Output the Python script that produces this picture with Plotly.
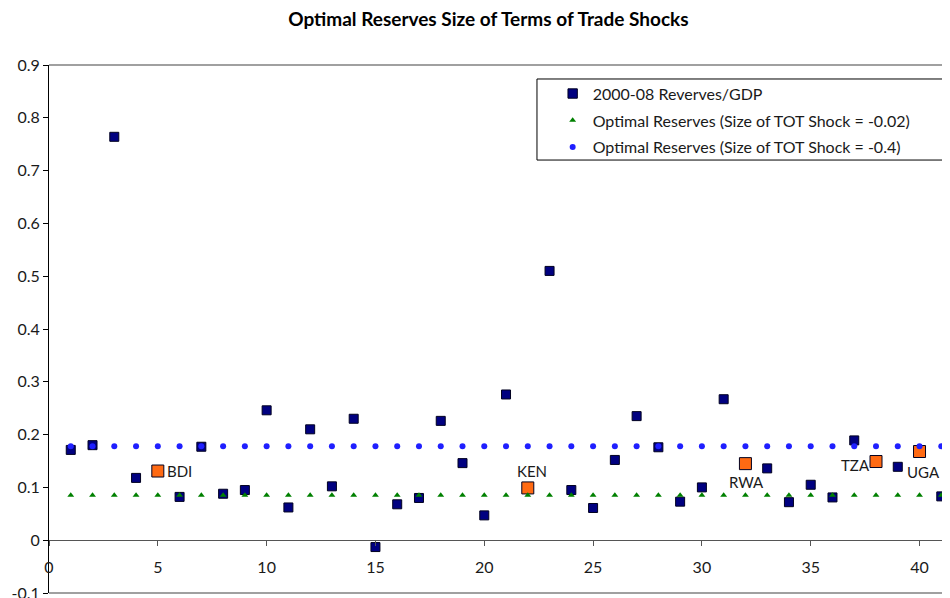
import plotly.graph_objects as go

# datos
country_idx = list(range(1, 42))
reserves_gdp = [0.171, 0.180, 0.764, 0.118, 0.131, 0.082, 0.177, 0.088, 0.095, 0.246,
                0.062, 0.210, 0.102, 0.230, -0.013, 0.068, 0.080, 0.226, 0.146, 0.047,
                0.276, 0.099, 0.510, 0.095, 0.061, 0.152, 0.235, 0.176, 0.073, 0.100,
                0.267, 0.145, 0.136, 0.072, 0.105, 0.081, 0.189, 0.149, 0.139, 0.168,
                0.083]
optimal_small = [0.085] * 41   # shock TOT = -0.02
optimal_large = [0.178] * 41   # shock TOT = -0.4

highlight_codes = ["BDI", "KEN", "RWA", "TZA", "UGA"]
highlight_idx = [5, 22, 32, 38, 40]

y_ticks = [-0.1, 0, 0.1, 0.2, 0.3, 0.4, 0.5, 0.6, 0.7, 0.8, 0.9]
y_ticktext = ["-0.1", "0", "0.1", "0.2", "0.3", "0.4", "0.5", "0.6", "0.7", "0.8", "0.9"]
x_ticks = [0, 5, 10, 15, 20, 25, 30, 35, 40]

FONT = "Lato, 'Open Sans', sans-serif"

# separar los países resaltados del resto
hl_vals = [reserves_gdp[i - 1] for i in highlight_idx]
colors = ["#FF6A13" if i in highlight_idx else "#000080" for i in country_idx]
sizes = [9 if i not in highlight_idx else 12 for i in country_idx]

fig = go.Figure()

# en Excel la serie de reservas queda debajo de las otras dos
fig.add_trace(go.Scatter(
    x=country_idx, y=reserves_gdp, mode="markers",
    name="2000-08 Reverves/GDP", legendgroup="a",
    marker=dict(symbol="square", size=sizes, color=colors, opacity=1,
                line=dict(color="#000020", width=1)),
))
fig.add_trace(go.Scatter(
    x=country_idx, y=optimal_small, mode="markers",
    name="Optimal Reserves (Size of TOT Shock = -0.02)", legendgroup="b",
    marker=dict(symbol="triangle-up", size=6, color="#008000"),
))
fig.add_trace(go.Scatter(
    x=country_idx, y=optimal_large, mode="markers",
    name="Optimal Reserves (Size of TOT Shock = -0.4)", legendgroup="c",
    marker=dict(symbol="circle", size=6, color="#1F1FFF"),
))

# etiquetas de los países resaltados (desplazamiento en px respecto al punto)
label_shift = {"BDI": (22, 0), "KEN": (4, 17), "RWA": (1, -18), "TZA": (-21, -3), "UGA": (4, -20)}
for code, xi, yv in zip(highlight_codes, highlight_idx, hl_vals):
    dx, dy = label_shift[code]
    fig.add_annotation(x=xi, y=yv, text=code, showarrow=False, xshift=dx, yshift=dy,
                       font=dict(size=15, color="#1a1a1a", family=FONT))

# el navegador deja 8px de margen en el body, se compensa aquí
fig.update_layout(
    width=942, height=590,
    margin=dict(l=41, r=0, t=57, b=5),
    plot_bgcolor="white", paper_bgcolor="white",
    font=dict(family=FONT, size=16, color="#1a1a1a"),
    title=dict(text="<b>Optimal Reserves Size of Terms of Trade Shocks</b>",
               x=0.51, xanchor="center", y=0.98, yanchor="middle",
               font=dict(size=19, color="black")),
    legend=dict(x=0.559, y=0.978, xanchor="left", yanchor="top",
                borderwidth=0, bgcolor="rgba(0,0,0,0)", tracegroupgap=3,
                font=dict(size=16), itemsizing="trace"),
    showlegend=True,
)
fig.update_xaxes(range=[0, 41.4], tickvals=x_ticks,
                 showgrid=False, zeroline=False, showline=True, linecolor="#555555",
                 ticks="outside", ticklen=5, tickcolor="#555555", ticklabelstandoff=8,
                 anchor="free", position=0.1, automargin=False)
fig.update_yaxes(range=[-0.1, 0.9], tickvals=y_ticks, ticktext=y_ticktext, showgrid=False,
                 zeroline=False, showline=True, linecolor="black",
                 ticks="outside", ticklen=5, tickcolor="black",
                 ticklabeloverflow="allow", automargin=False)

# bordes superior e inferior del área de trazado
fig.add_shape(type="line", xref="paper", yref="paper", x0=0, x1=1, y0=1, y1=1,
              line=dict(color="#a0a0a0", width=2))
fig.add_shape(type="line", xref="paper", yref="paper", x0=0, x1=1, y0=0, y1=0,
              line=dict(color="#a0a0a0", width=2))
# marco de la leyenda
fig.add_shape(type="rect", xref="paper", yref="paper", x0=0.5416, x1=0.9945, y0=0.820, y1=0.9735,
              line=dict(color="black", width=1), fillcolor="white", layer="below")

fig.write_html("out.html")
